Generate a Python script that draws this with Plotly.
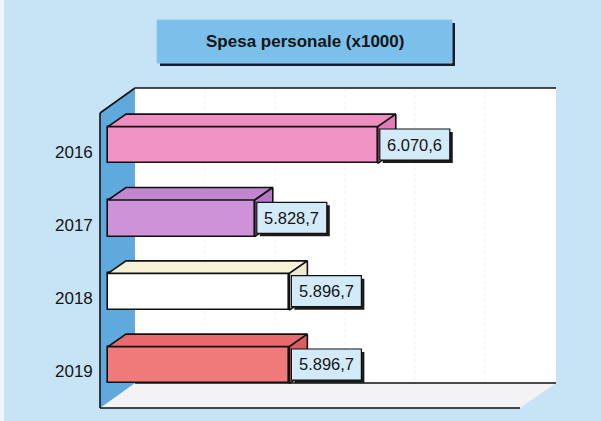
import plotly.graph_objects as go

# ---- data -------------------------------------------------------------
years = ["2016", "2017", "2018", "2019"]
spesa = [6070.6, 5828.7, 5896.7, 5896.7]
value_labels = ["6.070,6", "5.828,7", "5.896,7", "5.896,7"]
title_text = "Spesa personale (x1000)"

# ---- styling ----------------------------------------------------------
front_colors = ["#f293c6", "#cd92d8", "#ffffff", "#f07a7a"]
top_colors = ["#ef8cc0", "#c285d0", "#f7f1d6", "#e86a6e"]
side_colors = ["#e27cb4", "#b677c6", "#efe9d2", "#d95e62"]
BG = "#c7e3f6"
W, H = 601, 421
FONT = "Liberation Sans, Arial, sans-serif"

# value axis: AX_MIN sits on the front plane of the bars
AX_MIN = 5540.0
K = 0.50847            # pixels per unit along the value axis
X0_PX = 108            # pixel column of AX_MIN on the bar front plane
X_RANGE = [AX_MIN - X0_PX / K, AX_MIN + (W - X0_PX) / K]

# category axis: bar i centred at Y0_PX + i * STEP_PX
Y0_PX, STEP_PX = 145.0, 73.33
Y_RANGE = [(H - Y0_PX) / STEP_PX, -Y0_PX / STEP_PX]
BAR_W = 0.5

# 3D depth of each bar (top / end faces)
DX = 18 / K
DY = 12.5 / STEP_PX


def px(x):
    return x / W


def py(y):
    return 1 - y / H


fig = go.Figure()

# front faces
fig.add_trace(go.Bar(
    y=list(range(len(years))),
    x=[v - AX_MIN for v in spesa],
    base=AX_MIN,
    orientation="h",
    width=BAR_W,
    marker=dict(color=front_colors, line=dict(color="#111111", width=1.6)),
    hoverinfo="skip",
    showlegend=False,
))

# top and end faces of each bar
for i, v in enumerate(spesa):
    top = i - BAR_W / 2
    bot = i + BAR_W / 2
    fig.add_trace(go.Scatter(
        x=[AX_MIN, v, v + DX, AX_MIN + DX, AX_MIN],
        y=[top, top, top - DY, top - DY, top],
        fill="toself", fillcolor=top_colors[i], mode="lines",
        line=dict(color="#111111", width=1.6),
        hoverinfo="skip", showlegend=False,
    ))
    fig.add_trace(go.Scatter(
        x=[v, v + DX, v + DX, v, v],
        y=[top, top - DY, bot - DY, bot, top],
        fill="toself", fillcolor=side_colors[i], mode="lines",
        line=dict(color="#111111", width=1.6),
        hoverinfo="skip", showlegend=False,
    ))

shapes = []


def poly(points, fill):
    path = "M " + " L ".join(f"{px(x)},{py(y)}" for x, y in points) + " Z"
    shapes.append(dict(
        type="path", xref="paper", yref="paper", path=path,
        fillcolor=fill, layer="below", line=dict(color=fill, width=0),
    ))


def seg(x1, y1, x2, y2, color="#111111", width=1.6, dash="solid"):
    shapes.append(dict(
        type="line", xref="paper", yref="paper",
        x0=px(x1), y0=py(y1), x1=px(x2), y1=py(y2),
        line=dict(color=color, width=width, dash=dash), layer="below",
    ))


# scan edge on the left
shapes.append(dict(type="rect", xref="paper", yref="paper", x0=0, x1=px(4),
                   y0=0, y1=1, fillcolor="#eef6fb", line=dict(width=0), layer="below"))

# back wall, floor, side wall
poly([(135, 88), (556, 88), (556, 383), (135, 383)], "#ffffff")
poly([(100, 408), (520, 408), (556, 383), (135, 383)], "#f3f3f5")
poly([(100, 113), (135, 88), (135, 383), (100, 408)], "#5fa9dd")

# faint gridlines on the back wall
for gx in [205, 275, 345, 415, 485]:
    seg(gx, 89, gx, 382, color="#f1f1f1", width=1, dash="dot")

# wall / floor edges
seg(135, 88, 556, 88)
seg(100, 113, 135, 88)
seg(100, 113, 100, 408)
seg(135, 383, 556, 383)
seg(100, 408, 520, 408)

# title box with drop shadow
shapes.append(dict(type="rect", xref="paper", yref="paper",
                   x0=px(160), x1=px(455), y0=py(66), y1=py(23),
                   fillcolor="#1b1d2b", line=dict(width=0), layer="above"))
shapes.append(dict(type="rect", xref="paper", yref="paper",
                   x0=px(157), x1=px(452), y0=py(63), y1=py(20),
                   fillcolor="#7bbfeb", line=dict(color="#8cc8ef", width=1), layer="above"))

# value boxes (anchored at the end of each bar) with drop shadow
BOX_W = 70
for i, v in enumerate(spesa):
    shapes.append(dict(type="rect", xref="x", yref="y",
                       xsizemode="pixel", xanchor=v, x0=5, x1=5 + BOX_W,
                       ysizemode="pixel", yanchor=i, y0=-18, y1=13,
                       fillcolor="#1b1b1b", line=dict(width=0), layer="above"))
    shapes.append(dict(type="rect", xref="x", yref="y",
                       xsizemode="pixel", xanchor=v, x0=2, x1=2 + BOX_W,
                       ysizemode="pixel", yanchor=i, y0=-15, y1=16,
                       fillcolor="#d3ebf8", line=dict(color="#111111", width=1.2),
                       layer="above"))

annotations = []

# category labels
for i, yr in enumerate(years):
    annotations.append(dict(
        x=px(95), xref="paper", y=i, yref="y", text=yr,
        xanchor="right", yanchor="middle", yshift=-7, showarrow=False,
        font=dict(family=FONT, size=17, color="#141414"),
    ))

# value texts
for i, (v, lab) in enumerate(zip(spesa, value_labels)):
    annotations.append(dict(
        x=v, xref="x", y=i, yref="y", text=lab, xanchor="center",
        yanchor="middle", xshift=2 + BOX_W / 2, yshift=0.5, showarrow=False,
        font=dict(family=FONT, size=16.5, color="#141414"),
    ))

# title text
annotations.append(dict(
    x=px(304.5), y=py(41.5), xref="paper", yref="paper", text=f"<b>{title_text}</b>",
    showarrow=False, xanchor="center", yanchor="middle",
    font=dict(family=FONT, size=17, color="#141414"),
))

fig.update_layout(
    width=W, height=H,
    margin=dict(l=0, r=0, t=0, b=0),
    paper_bgcolor=BG, plot_bgcolor="rgba(0,0,0,0)",
    shapes=shapes, annotations=annotations,
    xaxis=dict(range=X_RANGE, domain=[0, 1], visible=False, fixedrange=True),
    yaxis=dict(range=Y_RANGE, domain=[0, 1], visible=False, fixedrange=True),
    bargap=0, showlegend=False,
)

fig.write_html("out.html")
